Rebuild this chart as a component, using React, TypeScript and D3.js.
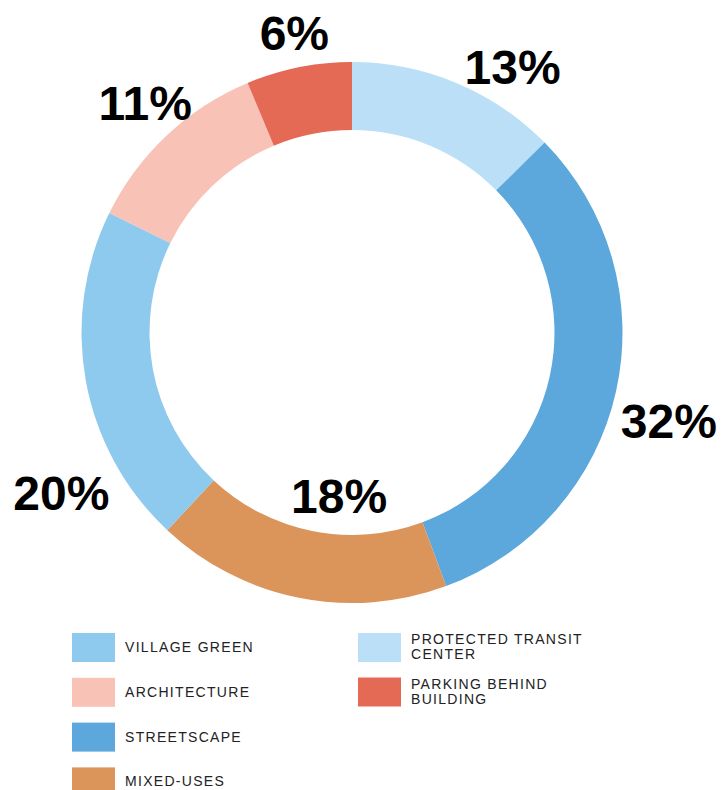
import React from "react";
import * as d3 from "d3";

// Slice order, clockwise from 12 o'clock
const categories = [
  "PROTECTED TRANSIT CENTER",
  "STREETSCAPE",
  "MIXED-USES",
  "VILLAGE GREEN",
  "ARCHITECTURE",
  "PARKING BEHIND BUILDING",
];
// shares (labels show them rounded)
const shares = [12.6, 31.7, 17.6, 20.3, 11.4, 6.3];
const colors = ["#bbdff6", "#5ca7db", "#db955b", "#8ec9ee", "#f9c2b7", "#e46a55"];

// Legend layout: two columns, label lines as drawn
const legendCol1 = ["VILLAGE GREEN", "ARCHITECTURE", "STREETSCAPE", "MIXED-USES"];
const legendCol2 = ["PROTECTED TRANSIT CENTER", "PARKING BEHIND BUILDING"];
const legendLines: Record<string, string[]> = {
  "PROTECTED TRANSIT CENTER": ["PROTECTED TRANSIT", "CENTER"],
  "PARKING BEHIND BUILDING": ["PARKING BEHIND", "BUILDING"],
};

// Where each percentage label sits (angle in degrees from top, distance from centre)
const labelAngle = [31.2, 105.6, 184.5, 241.1, 318, 349.1];
const labelRadius = [310, 329, 164, 332, 309, 305];

const W = 723;
const H = 790;
const cx = 352;
const cy = 332.5;
const outerR = 270.5;
const innerR = 202.5;

const App: React.FC = () => {
  const pie = d3
    .pie<number>()
    .sort(null)
    .value((d) => d);
  const arcs = pie(shares);
  const arc = d3.arc<d3.PieArcDatum<number>>().innerRadius(innerR).outerRadius(outerR);
  const total = d3.sum(shares);
  const pct = d3.format(".0%");

  const colorOf = d3.scaleOrdinal<string, string>().domain(categories).range(colors);

  const font = "'Liberation Sans', Arial, Helvetica, sans-serif";

  const legendRow = (name: string, x: number, y: number) => {
    const lines = legendLines[name] || [name];
    const textY = lines.length === 1 ? y + 19 : y + 11;
    return (
      <g key={name}>
        <rect x={x} y={y} width={43} height={29} fill={colorOf(name)} />
        <text
          x={x + 53}
          y={textY}
          fontFamily={font}
          fontSize={14}
          letterSpacing={1.3}
          fill="#222"
        >
          {lines.map((l, i) => (
            <tspan key={i} x={x + 53} dy={i === 0 ? 0 : 15}>
              {l}
            </tspan>
          ))}
        </text>
      </g>
    );
  };

  return (
    <svg
      width={W}
      height={H}
      style={{ position: "absolute", left: 0, top: 0, display: "block", background: "#fff" }}
    >
      <g transform={`translate(${cx},${cy})`}>
        {arcs.map((a, i) => (
          <path key={categories[i]} d={arc(a) || ""} fill={colorOf(categories[i])} />
        ))}
        {arcs.map((a, i) => {
          const t = (labelAngle[i] * Math.PI) / 180;
          const x = Math.sin(t) * labelRadius[i];
          const y = -Math.cos(t) * labelRadius[i];
          return (
            <text
              key={"l" + i}
              x={x}
              y={y + 17}
              textAnchor="middle"
              fontFamily={font}
              fontWeight="bold"
              fontSize={48}
              fill="#000"
            >
              {pct(a.data / total)}
            </text>
          );
        })}
      </g>
      <g>
        {legendCol1.map((n, i) => legendRow(n, 72, 633 + i * 44.8))}
        {legendCol2.map((n, i) => legendRow(n, 358, 633 + i * 44.5))}
      </g>
    </svg>
  );
};

export default App;
